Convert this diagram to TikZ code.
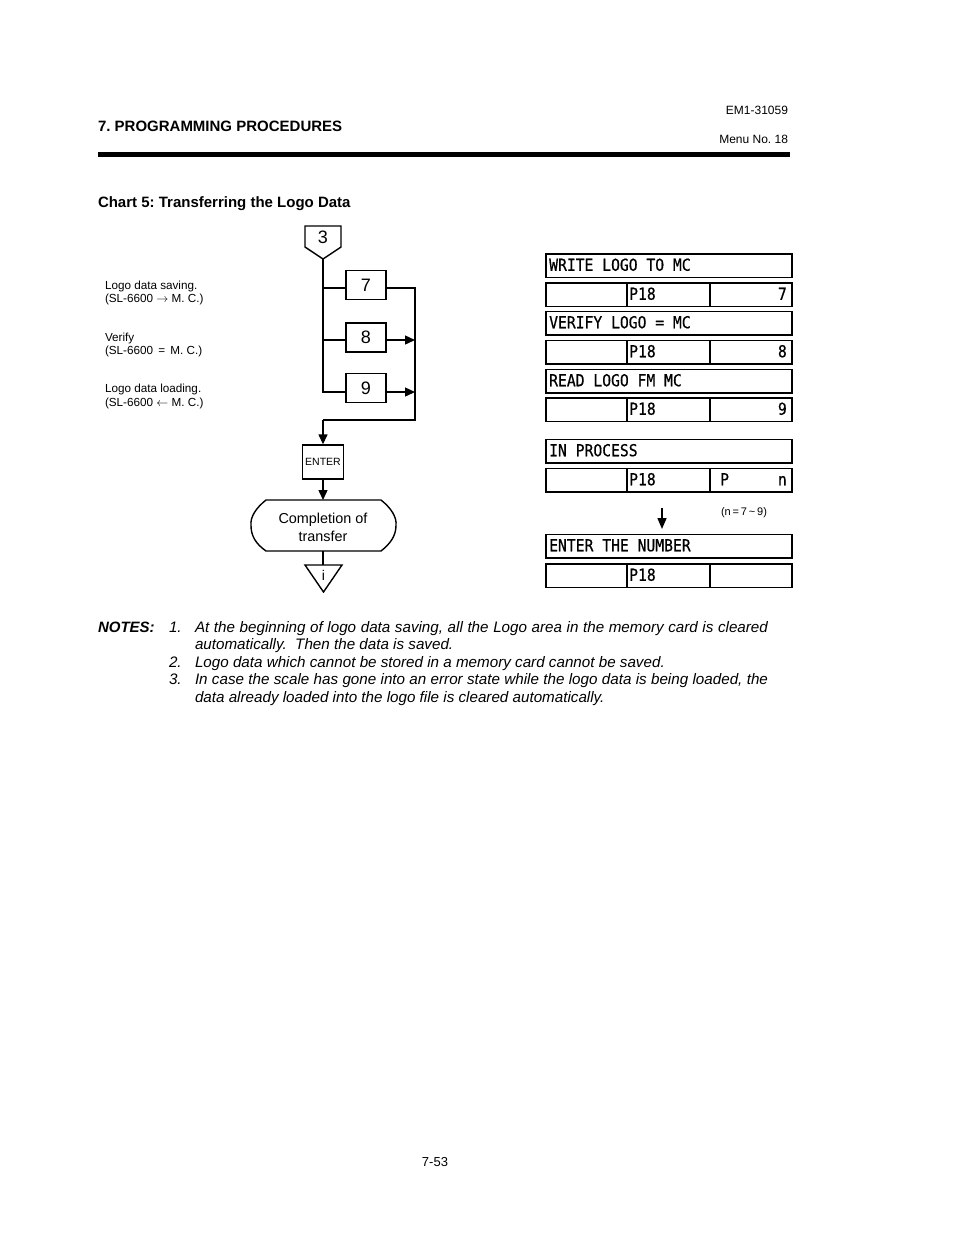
\documentclass[tikz,border=0pt]{standalone}
\usepackage{fontspec}
\setmainfont{Liberation Sans}
\newfontfamily\lcdfont[FakeStretch=0.89,FakeBold=0.6]{DejaVu Sans Mono}
\usetikzlibrary{arrows.meta}
\frenchspacing
\begin{document}
\begin{tikzpicture}[x=1pt,y=-1pt,
  txt/.style={inner sep=0pt, outer sep=0pt},
  fl/.style={line width=1.4pt},
  arr/.style={fl, -{Triangle[length=10pt,width=9pt]}},
  fbox/.style={draw, line width=1.4pt, minimum width=40pt, minimum height=29pt, inner sep=0pt, font=\fontsize{18}{18}\selectfont},
  cell/.style={draw, line width=1.9pt, minimum height=23.5pt, inner sep=0pt, anchor=north west},
  lcd/.style={inner sep=0pt, font=\lcdfont\fontsize{16.5}{16.5}\selectfont},
  lbl/.style={txt, anchor=base west, font=\fontsize{11.7}{13.5}\selectfont},
  note/.style={txt, anchor=base west, font=\fontsize{15.2}{17.6}\selectfont\itshape},
]
\useasboundingbox[fill=white] (0,0) rectangle (954,1235);

% ---------- header ----------
\node[txt, anchor=base west, font=\fontsize{15}{15}\selectfont\bfseries] (hd) at (98,131) {7. PROGRAMMING PROCEDURES};
\node[txt, anchor=base east, font=\fontsize{12}{12}\selectfont] (em) at (788,114) {EM1-31059};
\node[txt, anchor=base east, font=\fontsize{12}{12}\selectfont] (menu) at (788,143) {Menu No. 18};
\fill (98,151.5) rectangle (790,156.5);
\node[txt, anchor=base west, font=\fontsize{15}{15}\selectfont\bfseries] (chart) at (98,207) {Chart 5: Transferring the Logo Data};

% ---------- left labels ----------
\node[lbl] (l1a) at (105,289) {Logo data saving.};
\node[lbl] (l1b) at (105,302.5) {(SL-6600 $\rightarrow$ M. C.)};
\node[lbl] (l2a) at (105,341) {Verify};
\node[lbl] (l2b) at (105,354.5) {(SL-6600 \,=\, M. C.)};
\node[lbl] (l3a) at (105,392.5) {Logo data loading.};
\node[lbl] (l3b) at (105,406) {(SL-6600 $\leftarrow$ M. C.)};

% ---------- flowchart ----------
\draw[fl] (305,226) -- (341,226) -- (341,247) -- (323,259) -- (305,247) -- cycle;
\node[txt, font=\fontsize{18}{18}\selectfont] (n3) at (323,237) {3};
\coordinate (apex) at (323,259);
\coordinate (j7) at (323,288);
\coordinate (j8) at (323,340);
\coordinate (j9) at (323,392);

\node[fbox] (b7) at (366,285) {7};
\node[fbox] (b8) at (366,337.5) {8};
\node[fbox] (b9) at (366,388) {9};

\coordinate (r7) at (415,288);
\coordinate (r8) at (415,340);
\coordinate (r9) at (415,392);
\coordinate (rb) at (415,420);
\coordinate (lb) at (323,420);

\draw[fl] (apex) -- (j9) -- (j9 -| b9.west);
\draw[fl] (j7) -- (j7 -| b7.west);
\draw[fl] (j8) -- (j8 -| b8.west);
\draw[fl] (b7.east |- r7) -- (r7) -- (rb) -- (lb);
\draw[arr] (b8.east |- r8) -- (r8);
\draw[arr] (b9.east |- r9) -- (r9);

\node[draw, line width=1.4pt, minimum width=41pt, minimum height=34pt, inner sep=0pt, font=\fontsize{10.5}{10.5}\selectfont] (ent) at (323,462) {ENTER};
\draw[arr] (lb) -- (ent.north);

\coordinate (ttop) at (323,500);
\coordinate (tbot) at (323,551);
\draw[fl] (266,500) -- (381,500) .. controls (391,508) and (397,517) .. (396,525.5) .. controls (396,536) and (390,544) .. (381,551) -- (266,551) .. controls (256,544) and (251,536) .. (251,525.5) .. controls (250,517) and (256,508) .. (266,500) -- cycle;
\node[txt, font=\fontsize{14.4}{14.4}\selectfont, anchor=base] (tx1) at (323,523) {Completion of};
\node[txt, font=\fontsize{14.4}{14.4}\selectfont, anchor=base] (tx2) at (323,541) {transfer};
\draw[arr] (ent.south) -- (ttop);

\coordinate (tri) at (323,565);
\draw[fl] (305,565) -- (342,565) -- (323.5,592) -- cycle;
\node[txt, font=\fontsize{14}{14}\selectfont] (ni) at (323.5,575.5) {i};
\draw[fl] (tbot) -- (tri);

% ---------- displays ----------
\node[cell, minimum width=246pt] (d1) at (545,253) {};
\node[lcd, anchor=base west] (d1t) at (549,270.75) {WRITE LOGO TO MC};
\node[cell, minimum width=81pt] (d2a) at (545,282) {};
\node[cell, minimum width=83pt] (d2b) at (626,282) {};
\node[cell, minimum width=82pt] (d2c) at (709,282) {};
\node[lcd, anchor=base west] (d2t) at (629,299.75) {P18};
\node[lcd, anchor=base east] (d2n) at (787,299.75) {7};

\node[cell, minimum width=246pt] (d3) at (545,310.5) {};
\node[lcd, anchor=base west] (d3t) at (549,328.25) {VERIFY LOGO = MC};
\node[cell, minimum width=81pt] (d4a) at (545,339.5) {};
\node[cell, minimum width=83pt] (d4b) at (626,339.5) {};
\node[cell, minimum width=82pt] (d4c) at (709,339.5) {};
\node[lcd, anchor=base west] (d4t) at (629,357.25) {P18};
\node[lcd, anchor=base east] (d4n) at (787,357.25) {8};

\node[cell, minimum width=246pt] (d5) at (545,368.5) {};
\node[lcd, anchor=base west] (d5t) at (549,386.25) {READ LOGO FM MC};
\node[cell, minimum width=81pt] (d6a) at (545,397) {};
\node[cell, minimum width=83pt] (d6b) at (626,397) {};
\node[cell, minimum width=82pt] (d6c) at (709,397) {};
\node[lcd, anchor=base west] (d6t) at (629,414.75) {P18};
\node[lcd, anchor=base east] (d6n) at (787,414.75) {9};

\node[cell, minimum width=246pt] (d7) at (545,438.5) {};
\node[lcd, anchor=base west] (d7t) at (549,456.25) {IN PROCESS};
\node[cell, minimum width=81pt] (d8a) at (545,467.5) {};
\node[cell, minimum width=83pt] (d8b) at (626,467.5) {};
\node[cell, minimum width=82pt] (d8c) at (709,467.5) {};
\node[lcd, anchor=base west] (d8t) at (629,485.25) {P18};
\node[lcd, anchor=base west] (d8p) at (720,485.25) {P};
\node[lcd, anchor=base east] (d8n) at (787,485.25) {n};

\coordinate (da1) at (662,508);
\coordinate (da2) at (662,529);
\draw[line width=1.5pt, -{Triangle[length=11pt,width=9pt]}] (da1) -- (da2);
\node[txt, font=\fontsize{11}{11}\selectfont] (rng) at (744,513) {(n\,=\,7\,\textasciitilde\,9)};

\node[cell, minimum width=246pt] (d9) at (545,533.5) {};
\node[lcd, anchor=base west] (d9t) at (549,551.25) {ENTER THE NUMBER};
\node[cell, minimum width=81pt] (d10a) at (545,563) {};
\node[cell, minimum width=83pt] (d10b) at (626,563) {};
\node[cell, minimum width=82pt] (d10c) at (709,563) {};
\node[lcd, anchor=base west] (d10t) at (629,580.75) {P18};

% ---------- notes ----------
\node[txt, anchor=base west, font=\fontsize{15}{15}\selectfont\bfseries\itshape] (notes) at (98,632) {NOTES:};
\node[note] (k1) at (169,632) {1.};
\node[note] (t1) at (195,632) {\makebox[573pt][s]{At the beginning of logo data saving, all the Logo area in the memory card is cleared}};
\node[note] (t1b) at (195,649.6) {automatically.\ \ Then the data is saved.};
\node[note] (k2) at (169,667.2) {2.};
\node[note] (t2) at (195,667.2) {Logo data which cannot be stored in a memory card cannot be saved.};
\node[note] (k3) at (169,684.8) {3.};
\node[note] (t3) at (195,684.8) {\makebox[573pt][s]{In case the scale has gone into an error state while the logo data is being loaded, the}};
\node[note] (t3b) at (195,702.4) {data already loaded into the logo file is cleared automatically.};

% ---------- page number ----------
\node[txt, anchor=base, font=\fontsize{13}{13}\selectfont] (pg) at (435,1166) {7-53};
\end{tikzpicture}
\end{document}
